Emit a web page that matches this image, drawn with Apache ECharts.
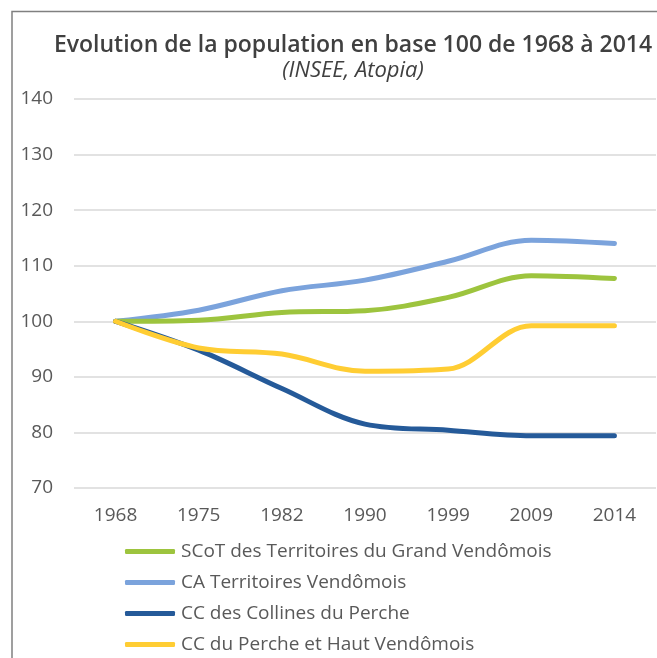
<!DOCTYPE html>
<html>
<head>
<meta charset="utf-8">
<script src="https://cdn.jsdelivr.net/npm/echarts@6/dist/echarts.min.js"></script>
<style>html,body{margin:0;padding:0;background:#fff;}#c{width:657px;height:658px;}</style>
</head>
<body>
<div id="c"></div>
<script>
const categories = ['1968', '1975', '1982', '1990', '1999', '2009', '2014'];
const seriesNames = ['SCoT des Territoires du Grand Vendômois', 'CA Territoires Vendômois', 'CC des Collines du Perche', 'CC du Perche et Haut Vendômois'];
const scotValues = [100, 100.2, 101.6, 101.9, 104.3, 108.2, 107.7];
const caValues = [100, 102.0, 105.5, 107.4, 110.8, 114.6, 114.0];
const collinesValues = [100, 94.8, 87.9, 81.5, 80.4, 79.4, 79.4];
const percheValues = [100, 95.2, 94.1, 91.0, 91.4, 99.2, 99.2];
const colors = ['#9DC43E', '#7BA3DC', '#255A99', '#FFCD33'];

const FONT = 'Open Sans';
const chart = echarts.init(document.getElementById('c'), null, {renderer: 'canvas'});
const mk = (name, data, color, z) => ({
  name, type: 'line', data, smooth: 0.35, symbol: 'none', z,
  lineStyle: {width: 5, color: color, cap: 'round'},
  itemStyle: {color: color}
});
chart.setOption({
  animation: false,
  textStyle: {fontFamily: FONT},
  graphic: [{
    type: 'polyline', shape: {points: [[12, 700], [12, 11.5], [700, 11.5]]},
    style: {stroke: '#808080', lineWidth: 1.5, fill: null}, silent: true
  }],
  title: {
    text: 'Evolution de la population en base 100 de 1968 à 2014',
    subtext: '(INSEE, Atopia)',
    left: 348, top: 29, textAlign: 'center', itemGap: 3,
    textStyle: {fontFamily: FONT, fontWeight: 600, fontSize: 23, color: '#404040'},
    subtextStyle: {fontFamily: FONT, fontStyle: 'italic', fontSize: 22, color: '#404040'}
  },
  legend: {
    orient: 'vertical', left: 120, top: 537, height: 140,
    itemWidth: 50, itemHeight: 5, itemGap: 12,
    icon: 'roundRect',
    textStyle: {fontFamily: FONT, fontSize: 19, color: '#595959', padding: [0, 0, 0, 1]},
    data: seriesNames
  },
  grid: {left: 74, right: 1, top: 99, bottom: 170, containLabel: false},
  xAxis: {
    type: 'category', data: categories, boundaryGap: true,
    axisLine: {show: false}, axisTick: {show: false},
    axisLabel: {fontFamily: FONT, fontSize: 19, color: '#595959', margin: 18}
  },
  yAxis: {
    type: 'value', min: 70, max: 140, interval: 10,
    axisLine: {show: false}, axisTick: {show: false},
    axisLabel: {fontFamily: FONT, fontSize: 19, color: '#595959', margin: 21},
    splitLine: {lineStyle: {color: '#D9D9D9', width: 1.5}}
  },
  series: [
    mk(seriesNames[0], scotValues, colors[0], 3),
    mk(seriesNames[1], caValues, colors[1], 2),
    mk(seriesNames[2], collinesValues, colors[2], 4),
    mk(seriesNames[3], percheValues, colors[3], 5)
  ]
});
</script>
</body>
</html>
